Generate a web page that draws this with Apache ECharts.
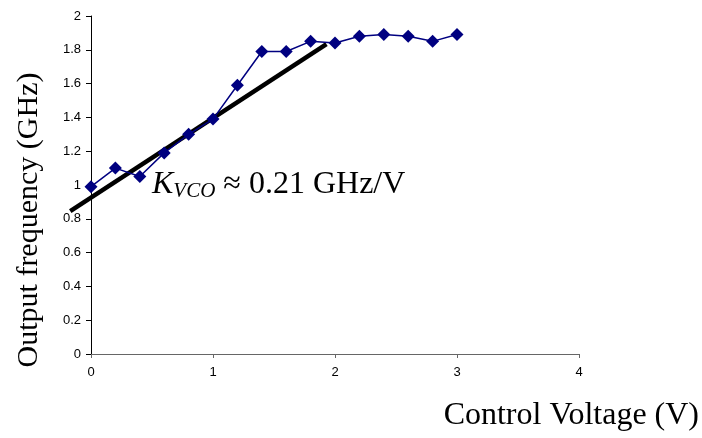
<!DOCTYPE html>
<html>
<head>
<meta charset="utf-8">
<script src="https://cdn.jsdelivr.net/npm/echarts@6/dist/echarts.min.js"></script>
<style>
  html, body { margin: 0; padding: 0; background: #fff; }
  #chart { width: 702px; height: 438px; }
</style>
</head>
<body>
<div id="chart"></div>
<script>
// Measured VCO transfer characteristic
const controlVoltage = [0, 0.2, 0.4, 0.6, 0.8, 1.0, 1.2, 1.4, 1.6, 1.8, 2.0, 2.2, 2.4, 2.6, 2.8, 3.0];
const outputFrequency = [0.99, 1.10, 1.05, 1.19, 1.30, 1.39, 1.59, 1.79, 1.79, 1.85, 1.84, 1.88, 1.89, 1.88, 1.85, 1.89];

// End points of the straight-line fit through the linear region
const fitVoltage = [-0.17, 1.93];
const fitFrequency = [0.846, 1.834];

const xTicks = [0, 1, 2, 3, 4];
const yTicks = [0, 0.2, 0.4, 0.6, 0.8, 1, 1.2, 1.4, 1.6, 1.8, 2];

const serif = "'Liberation Serif', 'Times New Roman', serif";
const sans = "'Liberation Sans', Arial, sans-serif";

// Plot area geometry
const plotLeft = 91, plotRight = 123, plotTop = 16, plotBottom = 84;
const plotWidth = 702 - plotLeft - plotRight;
const xMin = xTicks[0], xMax = xTicks[xTicks.length - 1];
const pxPerVolt = plotWidth / (xMax - xMin);
// The fit line extends slightly left of the y axis, so it lives on an
// overlay grid whose (hidden) x axis starts a little below zero.
const fitXMin = -0.2;

const chart = echarts.init(document.getElementById('chart'), null, { renderer: 'canvas' });

chart.setOption({
  animation: false,
  backgroundColor: '#ffffff',
  grid: [
    { left: plotLeft, top: plotTop, right: plotRight, bottom: plotBottom, containLabel: false },
    { left: plotLeft + fitXMin * pxPerVolt, top: plotTop, right: plotRight, bottom: plotBottom, containLabel: false }
  ],
  xAxis: [
    {
      type: 'value',
      gridIndex: 0,
      min: xMin,
      max: xMax,
      interval: 1,
      axisLine: { show: true, onZero: false, lineStyle: { color: '#666666', width: 1 } },
      axisTick: { show: true, inside: false, length: 4, lineStyle: { color: '#666666' } },
      axisLabel: { color: '#000', fontFamily: sans, fontSize: 13, margin: 12 },
      splitLine: { show: false }
    },
    {
      type: 'value',
      gridIndex: 1,
      min: fitXMin,
      max: xMax,
      show: false,
      splitLine: { show: false }
    }
  ],
  yAxis: [
    {
      type: 'value',
      gridIndex: 0,
      min: yTicks[0],
      max: yTicks[yTicks.length - 1],
      interval: 0.2,
      axisLine: { show: true, lineStyle: { color: '#000', width: 1 } },
      axisTick: { show: true, inside: false, length: 5, lineStyle: { color: '#000' } },
      axisLabel: {
        color: '#000', fontFamily: sans, fontSize: 13, margin: 10,
        formatter: v => String(Math.round(v * 10) / 10)
      },
      splitLine: { show: false }
    },
    {
      type: 'value',
      gridIndex: 1,
      min: yTicks[0],
      max: yTicks[yTicks.length - 1],
      show: false,
      splitLine: { show: false }
    }
  ],
  series: [
    {
      type: 'line',
      xAxisIndex: 1,
      yAxisIndex: 1,
      data: fitVoltage.map((v, i) => [v, fitFrequency[i]]),
      symbol: 'none',
      lineStyle: { color: '#000', width: 4.5 },
      z: 3
    },
    {
      type: 'line',
      xAxisIndex: 0,
      yAxisIndex: 0,
      data: controlVoltage.map((v, i) => [v, outputFrequency[i]]),
      symbol: 'diamond',
      symbolSize: 13,
      lineStyle: { color: '#000080', width: 1.5 },
      itemStyle: { color: '#000080' },
      z: 4
    }
  ],
  graphic: [
    {
      type: 'text',
      x: 29, y: 220,
      rotation: Math.PI / 2,
      style: {
        text: 'Output frequency (GHz)',
        fontFamily: serif,
        fontSize: 30,
        fill: '#000',
        textAlign: 'center',
        textVerticalAlign: 'middle'
      }
    },
    {
      type: 'text',
      x: 699, y: 416,
      style: {
        text: 'Control Voltage (V)',
        fontFamily: serif,
        fontSize: 32,
        fill: '#000',
        textAlign: 'right',
        textVerticalAlign: 'middle'
      }
    },
    {
      type: 'text',
      x: 152, y: 185,
      z: 10,
      style: {
        rich: {
          k: { fontFamily: serif, fontStyle: 'italic', fontSize: 32, fill: '#000' },
          sub: { fontFamily: serif, fontStyle: 'italic', fontSize: 21, fill: '#000', padding: [13, 0, 0, 0] },
          t: { fontFamily: serif, fontSize: 32, fill: '#000' }
        },
        text: '{k|K}{sub|VCO}{t| ≈ 0.21 GHz/V}',
        textVerticalAlign: 'middle'
      }
    }
  ]
});
</script>
</body>
</html>
